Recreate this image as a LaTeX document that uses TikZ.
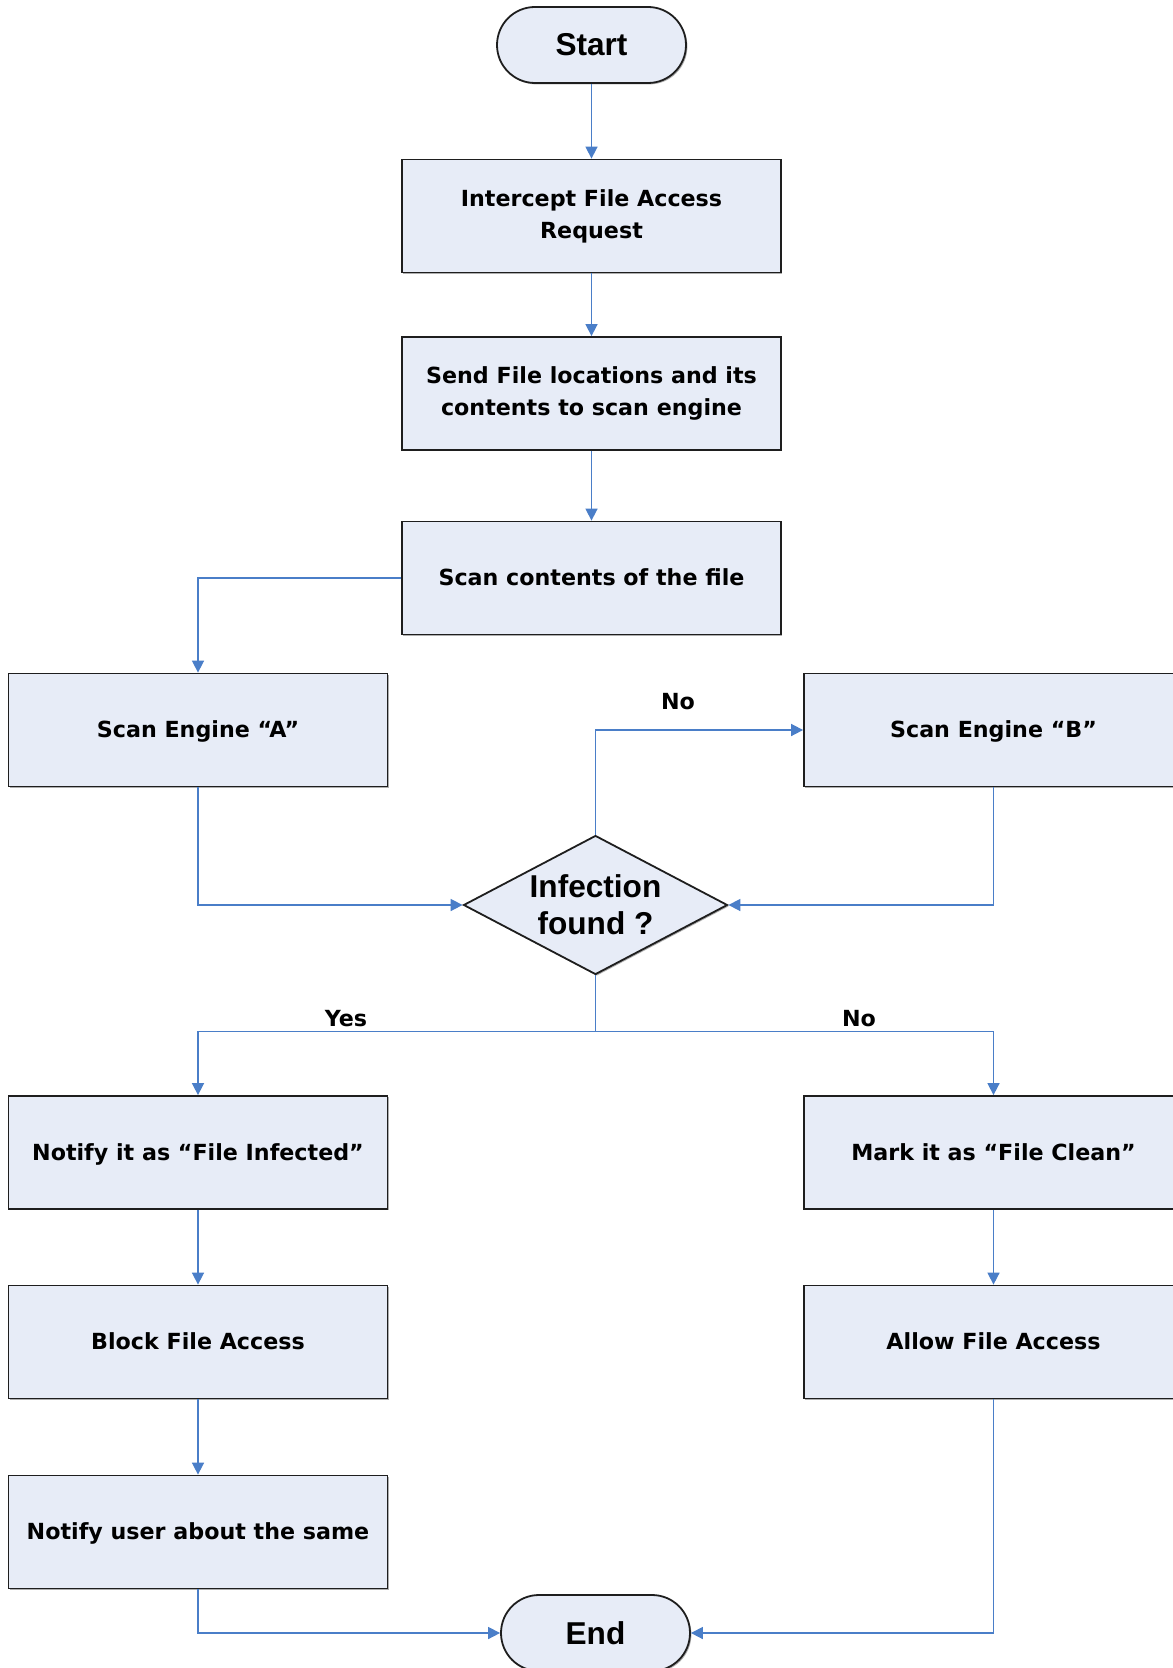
\documentclass[tikz,border=0pt]{standalone}
\usepackage{fontspec}
\setmainfont{DejaVu Sans}
\newfontfamily\arialf{Liberation Sans}
\usetikzlibrary{shapes.geometric,arrows.meta,shadows}
\definecolor{boxfill}{RGB}{231,236,247}
\definecolor{conn}{RGB}{74,126,200}
\definecolor{edge}{RGB}{30,30,30}
\begin{document}
\begin{tikzpicture}[x=0.5pt,y=-0.5pt,
  base/.style={draw=edge,line width=0.9pt,fill=boxfill,inner sep=0pt,
    drop shadow={shadow xshift=0.7pt,shadow yshift=-0.7pt,fill=black!45,opacity=0.7}},
  procbox/.style={base,rectangle,minimum width=189.5pt,minimum height=56.5pt,align=center,
    font=\fontsize{11.1}{16}\selectfont\bfseries},
  onebox/.style={procbox,text height=9.2pt,text depth=1.4pt},
  term/.style={base,rectangle,rounded corners=19pt,minimum width=94.5pt,minimum height=38pt,
    font=\arialf\fontsize{15.8}{18}\selectfont\bfseries},
  decision/.style={base,diamond,aspect=1.9,minimum width=132pt,minimum height=69.5pt,align=center,
    font=\arialf\fontsize{15.8}{18.6}\selectfont\bfseries},
  flow/.style={draw=conn,line width=0.8pt,-{Triangle[length=6pt,width=6pt]}},
  lbl/.style={font=\fontsize{11.1}{14}\selectfont\bfseries,inner sep=0pt}]
\useasboundingbox (0,0) rectangle (1172,1668);
\fill[white] (0,0) rectangle (1172,1668);

\node[term] (start) at (591.5,45) {Start};
\node[procbox] (intercept) at (591.5,216) {Intercept File Access\\Request};
\node[procbox] (send) at (591.5,393.5) {Send File locations and its\\contents to scan engine};
\node[onebox] (scan) at (591.5,578) {Scan contents of the file};
\node[onebox] (engA) at (198,730) {Scan Engine “A”};
\node[onebox] (engB) at (993.5,730) {Scan Engine “B”};
\node[decision] (dec) at (595.5,905) {Infection\\found ?};
\node[onebox] (notify) at (198,1152.5) {Notify it as “File Infected”};
\node[onebox] (mark) at (993.5,1152.5) {Mark it as “File Clean”};
\node[onebox] (block) at (198,1342) {Block File Access};
\node[onebox] (allow) at (993.5,1342) {Allow File Access};
\node[onebox] (notifyuser) at (198,1532) {Notify user about the same};
\node[term] (end) at (595.5,1633) {End};

\coordinate (split) at (595.5,1031.6);

\draw[flow] (start) -- (intercept);
\draw[flow] (intercept) -- (send);
\draw[flow] (send) -- (scan);
\draw[flow] (scan.west) -| (engA.north);
\draw[flow] (engA.south) |- (dec.west);
\draw[flow] (engB.south) |- (dec.east);
\draw[flow] (dec.north) |- (engB.west);
\draw[draw=conn,line width=0.8pt] (dec.south) -- (split);
\draw[flow] (split) -| (notify.north);
\draw[flow] (split) -| (mark.north);
\draw[flow] (notify) -- (block);
\draw[flow] (block) -- (notifyuser);
\draw[flow] (mark) -- (allow);
\draw[flow] (notifyuser.south) |- (end.west);
\draw[flow] (allow.south) |- (end.east);

\node[lbl] (noB) at (678,702) {No};
\node[lbl] (yes) at (346,1019) {Yes};
\node[lbl] (noC) at (859,1019) {No};
\end{tikzpicture}
\end{document}
